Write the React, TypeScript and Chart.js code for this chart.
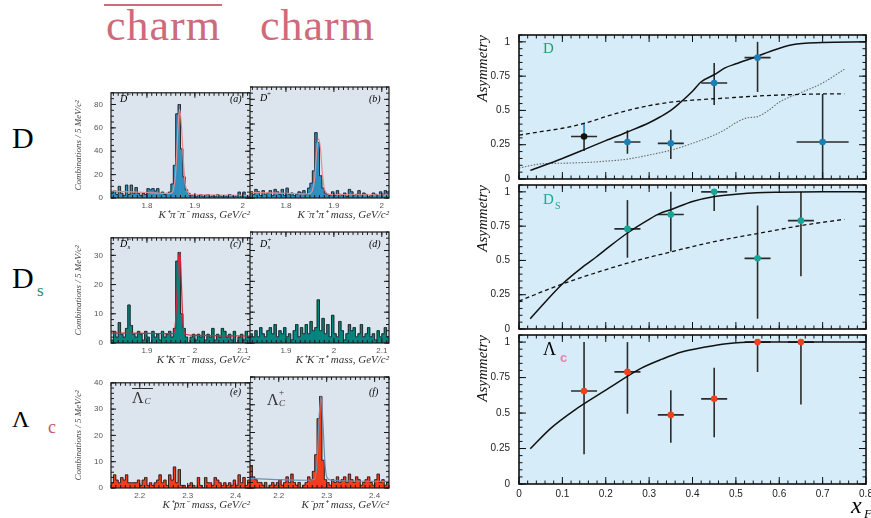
import React, { useEffect, useRef } from 'react';
import { Chart, registerables } from 'chart.js';

Chart.register(...registerables);

const SERIF = '"Liberation Serif", "Times New Roman", serif';
const SANS = '"Liberation Sans", Arial, sans-serif';

/* ---------------- left: invariant-mass histograms (counts / 5 MeV/c² bin) ---------------- */
const BIN = 0.005;
const edgeD = 1.725; // first bin edge, panels (a),(b)
const edgeDs = 1.825; // panels (c),(d)
const edgeLc = 2.14; // panels (e),(f)

const countsDminus = [
  4, 6, 3, 10, 4, 2, 11, 3, 11, 4, 9, 4, 2, 4, 3, 8, 7, 8, 6, 8, 4, 5, 3, 4, 5, 12, 28, 72, 80, 42,
  18, 7, 4, 2, 3, 1, 2, 3, 1, 2, 3, 1, 2, 1, 3, 2, 1, 2, 1, 3, 2, 1, 2, 5, 1, 5, 2, 1,
];
const countsDplus = [
  4, 3, 7, 5, 2, 6, 3, 4, 6, 2, 7, 5, 3, 7, 2, 8, 3, 4, 2, 3, 5, 4, 6, 3, 8, 12, 22, 53, 45, 18,
  8, 4, 3, 2, 5, 2, 6, 3, 2, 4, 1, 7, 5, 2, 3, 6, 2, 4, 3, 1, 2, 4, 3, 2, 5, 3, 6, 4,
];
const countsDsMinus = [
  1, 4, 2, 7, 3, 2, 5, 13, 6, 3, 2, 4, 3, 1, 4, 2, 0, 4, 2, 3, 1, 4, 2, 3, 4, 2, 5, 28, 31, 10,
  5, 2, 0, 2, 3, 1, 3, 2, 4, 1, 3, 2, 5, 1, 3, 2, 5, 4, 2, 3, 1, 4, 0, 2, 3, 1, 4, 2,
];
const countsDsPlus = [
  3, 2, 4, 2, 5, 3, 2, 4, 5, 3, 6, 2, 4, 3, 5, 2, 3, 1, 4, 6, 2, 5, 3, 6, 3, 7, 4, 5, 14, 4,
  8, 3, 6, 2, 9, 3, 2, 7, 4, 1, 3, 6, 4, 5, 2, 3, 6, 2, 3, 5, 2, 3, 1, 4, 2, 3, 5, 2,
];
const countsLcBar = [
  2, 5, 3, 2, 4, 3, 5, 2, 2, 2, 2, 3, 1, 3, 4, 1, 2, 1, 2, 3, 5, 2, 3, 1, 5, 3, 8, 2, 7, 1,
  1, 0, 1, 2, 1, 0, 4, 1, 0, 4, 2, 2, 1, 4, 3, 2, 1, 2, 1, 2, 1, 3, 1, 5, 2, 4, 1, 3,
];
const countsLcPlus = [
  8, 4, 3, 2, 2, 1, 2, 0, 1, 2, 1, 2, 3, 1, 2, 4, 2, 5, 2, 1, 2, 0, 1, 2, 4, 3, 6, 12, 25, 33,
  10, 3, 2, 1, 3, 2, 4, 2, 3, 4, 2, 5, 3, 2, 4, 3, 1, 2, 3, 4, 2, 1, 3, 5, 2, 3, 1, 2,
];

const fitDminusMass = [1.725, 1.76, 1.8, 1.84, 1.85, 1.855, 1.86, 1.864, 1.868, 1.872, 1.876, 1.88, 1.885, 1.89, 1.9, 1.95, 2.015];
const fitDminusCount = [5.8, 5.3, 4.7, 4.0, 4.2, 7, 22, 55, 76, 62, 32, 12, 5, 3, 2.8, 2.4, 2.2];
const fitDplusMass = [1.725, 1.76, 1.8, 1.84, 1.85, 1.855, 1.86, 1.864, 1.868, 1.872, 1.876, 1.88, 1.885, 1.89, 1.9, 1.95, 2.015];
const fitDplusCount = [4.5, 4.2, 3.8, 3.4, 3.6, 6, 16, 38, 48, 40, 20, 8, 4, 3, 2.8, 2.6, 2.4];
const fitDsMinusMass = [1.825, 1.9, 1.955, 1.959, 1.963, 1.966, 1.969, 1.972, 1.975, 1.98, 2.0, 2.115];
const fitDsMinusCount = [3.4, 3.3, 3.2, 6, 18, 29, 31, 20, 7, 3, 2.6, 2.4];
const fitLcPlusMass = [2.14, 2.2, 2.26, 2.275, 2.28, 2.284, 2.288, 2.292, 2.296, 2.3, 2.31, 2.43];
const fitLcPlusCount = [3.5, 3, 2.8, 3.2, 10, 25, 33, 24, 10, 4, 2.8, 2.4];

const massTicksD = [1.8, 1.9, 2];
const massTicksDs = [1.9, 2, 2.1];
const massTicksLc = [2.2, 2.3, 2.4];
const countTicksD = [0, 20, 40, 60, 80];
const countTicksDs = [0, 10, 20, 30];
const countTicksLc = [0, 10, 20, 30, 40];

/* ---------------- right: asymmetry vs xF ---------------- */
const xFTicks = [0, 0.1, 0.2, 0.3, 0.4, 0.5, 0.6, 0.7, 0.8];
const asymTicks = [0, 0.25, 0.5, 0.75, 1];

const dXF = [0.15, 0.25, 0.35, 0.45, 0.55, 0.7];
const dXHalf = [0.03, 0.03, 0.03, 0.03, 0.03, 0.06];
const dAsym = [0.31, 0.27, 0.26, 0.7, 0.885, 0.27];
const dLow = [0.205, 0.185, 0.145, 0.54, 0.635, 0];
const dHigh = [0.41, 0.355, 0.36, 0.845, 1.0, 0.62];

const dsXF = [0.25, 0.35, 0.45, 0.55, 0.65];
const dsXHalf = [0.03, 0.03, 0.03, 0.03, 0.03];
const dsAsym = [0.73, 0.835, 1.0, 0.515, 0.79];
const dsLow = [0.52, 0.565, 0.86, 0.075, 0.385];
const dsHigh = [0.94, 1.0, 1.0, 0.9, 1.0];

const lcXF = [0.15, 0.25, 0.35, 0.45, 0.55, 0.65];
const lcXHalf = [0.03, 0.03, 0.03, 0.03, 0.03, 0.03];
const lcAsym = [0.655, 0.79, 0.487, 0.6, 1.0, 1.0];
const lcLow = [0.21, 0.495, 0.29, 0.33, 0.79, 0.56];
const lcHigh = [1.0, 1.0, 0.66, 0.82, 1.0, 1.0];

const dSolidX = [0.026, 0.1, 0.15, 0.2, 0.25, 0.3, 0.325, 0.35, 0.37, 0.4, 0.42, 0.45, 0.475, 0.5, 0.55, 0.58, 0.63, 0.7, 0.8];
const dSolidY = [0.063, 0.15, 0.214, 0.28, 0.343, 0.41, 0.452, 0.5, 0.552, 0.64, 0.709, 0.76, 0.81, 0.84, 0.895, 0.932, 0.979, 0.995, 1.0];
const dDashX = [0, 0.05, 0.1, 0.15, 0.2, 0.25, 0.3, 0.35, 0.4, 0.45, 0.5, 0.55, 0.6, 0.65, 0.7, 0.75];
const dDashY = [0.32, 0.345, 0.37, 0.405, 0.455, 0.5, 0.535, 0.56, 0.575, 0.585, 0.595, 0.605, 0.612, 0.617, 0.62, 0.62];
const dDotX = [0, 0.05, 0.1, 0.15, 0.2, 0.25, 0.3, 0.35, 0.4, 0.45, 0.475, 0.5, 0.525, 0.55, 0.575, 0.6, 0.65, 0.7, 0.75];
const dDotY = [0.08, 0.11, 0.115, 0.12, 0.13, 0.145, 0.175, 0.21, 0.26, 0.32, 0.36, 0.41, 0.445, 0.455, 0.5, 0.56, 0.63, 0.7, 0.8];

const dsSolidX = [0.026, 0.05, 0.1, 0.15, 0.178, 0.2, 0.25, 0.3, 0.325, 0.35, 0.4, 0.448, 0.5, 0.548, 0.6, 0.7, 0.8];
const dsSolidY = [0.075, 0.16, 0.328, 0.46, 0.525, 0.58, 0.7, 0.8, 0.843, 0.87, 0.93, 0.965, 0.982, 0.993, 0.997, 1.0, 1.0];
const dsDashX = [0, 0.1, 0.25, 0.35, 0.45, 0.55, 0.65, 0.75];
const dsDashY = [0.204, 0.328, 0.48, 0.562, 0.637, 0.696, 0.754, 0.8];

const lcSolidX = [0.026, 0.075, 0.125, 0.2, 0.28, 0.33, 0.375, 0.43, 0.478, 0.54, 0.6, 0.8];
const lcSolidY = [0.248, 0.397, 0.514, 0.661, 0.813, 0.88, 0.93, 0.965, 0.988, 1.0, 1.0, 1.0];

/* ---------------- helpers ---------------- */
function steps(lo: number, hi: number, step: number): number[] {
  const out: number[] = [];
  const start = Math.ceil(lo / step - 1e-6);
  const end = Math.floor(hi / step + 1e-6);
  for (let k = start; k <= end; k++) out.push(+(k * step).toFixed(6));
  return out;
}

function makeFrame(o: any) {
  return {
    id: 'frame',
    beforeDatasetsDraw(chart: any) {
      const { ctx, chartArea: a } = chart;
      ctx.save();
      ctx.fillStyle = o.bg;
      ctx.fillRect(a.left, a.top, a.right - a.left, a.bottom - a.top);
      ctx.restore();
    },
    afterDatasetsDraw(chart: any) {
      const { ctx, chartArea: a, scales } = chart;
      const sx = scales.x;
      const sy = scales.y;
      ctx.save();
      ctx.strokeStyle = o.color;
      ctx.lineWidth = o.tickWidth;
      ctx.beginPath();
      const vx = (v: number, len: number) => {
        const p = sx.getPixelForValue(v);
        ctx.moveTo(p, a.bottom);
        ctx.lineTo(p, a.bottom - len);
        ctx.moveTo(p, a.top);
        ctx.lineTo(p, a.top + len);
      };
      const vy = (v: number, len: number) => {
        const p = sy.getPixelForValue(v);
        ctx.moveTo(a.left, p);
        ctx.lineTo(a.left + len, p);
        ctx.moveTo(a.right, p);
        ctx.lineTo(a.right - len, p);
      };
      o.xMinor.forEach((v: number) => vx(v, o.minLen));
      o.xMajor.forEach((v: number) => vx(v, o.majLen));
      o.yMinor.forEach((v: number) => vy(v, o.minLen));
      o.yMajor.forEach((v: number) => vy(v, o.majLen));
      ctx.stroke();
      ctx.lineWidth = o.frameWidth;
      ctx.strokeRect(a.left, a.top, a.right - a.left, a.bottom - a.top);
      ctx.restore();
    },
  };
}

function makeErrorBars(xs: number[], ys: number[], half: number[], lo: number[], hi: number[], color: string, upColors?: string[]) {
  return {
    id: 'errbars',
    beforeDatasetsDraw(chart: any) {
      const { ctx } = chart;
      const sx = chart.scales.x;
      const sy = chart.scales.y;
      ctx.save();
      ctx.lineWidth = 1.6;
      xs.forEach((x, i) => {
        const px = sx.getPixelForValue(x);
        const py = sy.getPixelForValue(ys[i]);
        ctx.strokeStyle = color;
        ctx.beginPath();
        ctx.moveTo(sx.getPixelForValue(x - half[i]), py);
        ctx.lineTo(sx.getPixelForValue(x + half[i]), py);
        ctx.moveTo(px, sy.getPixelForValue(lo[i]));
        ctx.lineTo(px, py);
        ctx.stroke();
        ctx.strokeStyle = (upColors && upColors[i]) || color;
        ctx.beginPath();
        ctx.moveTo(px, py);
        ctx.lineTo(px, sy.getPixelForValue(hi[i]));
        ctx.stroke();
      });
      ctx.restore();
    },
  };
}

/* ---------------- histogram panel ---------------- */
function HistPanel(props: any) {
  const c = props;
  const ref = useRef<HTMLCanvasElement>(null);
  useEffect(() => {
    const n = c.values.length;
    const xmin = c.start;
    const xmax = c.start + n * BIN;
    const centers = c.values.map((_: number, i: number) => c.start + (i + 0.5) * BIN);
    const outline = [
      { x: xmin, y: c.values[0] },
      ...c.values.map((v: number, i: number) => ({ x: centers[i], y: v })),
      { x: xmax, y: c.values[n - 1] },
    ];
    const datasets: any[] = [];
    if (c.fitX) {
      datasets.push({
        type: 'line',
        data: c.fitX.map((x: number, i: number) => ({ x, y: c.fitY[i] })),
        borderColor: c.fitColor,
        borderWidth: 1.2,
        pointRadius: 0,
        cubicInterpolationMode: 'monotone',
        fill: false,
      });
    }
    datasets.push({
      type: 'line',
      data: outline,
      stepped: 'middle',
      borderColor: '#2a2a2a',
      borderWidth: 1,
      pointRadius: 0,
      fill: false,
    });
    datasets.push({
      type: 'bar',
      data: c.values.map((v: number, i: number) => ({ x: centers[i], y: v })),
      backgroundColor: c.color,
      borderWidth: 0,
      barPercentage: 1,
      categoryPercentage: 1,
    });
    const frame = makeFrame({
      bg: '#dce5ee',
      color: '#1a1a1a',
      tickWidth: 1,
      frameWidth: 1.2,
      xMajor: c.xTicks,
      xMinor: steps(xmin, xmax, 0.01),
      yMajor: c.yTicks,
      yMinor: steps(0, c.ymax, c.yMinor),
      majLen: 5,
      minLen: 3,
    });
    const chart = new Chart(ref.current as HTMLCanvasElement, {
      type: 'bar',
      data: { datasets },
      plugins: [frame],
      options: {
        animation: false,
        responsive: false,
        maintainAspectRatio: false,
        events: [],
        layout: { padding: { left: 0, right: c.padRight, top: 7, bottom: 0 } },
        plugins: { legend: { display: false }, tooltip: { enabled: false } },
        scales: {
          x: {
            type: 'linear',
            offset: false,
            min: xmin,
            max: xmax,
            grid: { display: false, drawTicks: false, offset: false },
            border: { display: false },
            afterBuildTicks: (s: any) => {
              s.ticks = c.xTicks.map((v: number) => ({ value: v }));
            },
            afterFit: (s: any) => {
              s.height = 24;
            },
            ticks: {
              padding: 3,
              autoSkip: false,
              maxRotation: 0,
              color: '#555',
              font: { family: SANS, size: 8 },
              callback: (v: any) => String(v),
            },
            title: {
              display: true,
              text: c.xTitle,
              align: 'end',
              color: '#333',
              padding: 0,
              font: { family: SERIF, size: 11, style: 'italic' },
            },
          },
          y: {
            display: c.showY,
            min: 0,
            max: c.ymax,
            grid: { display: false, drawTicks: false },
            border: { display: false },
            afterBuildTicks: (s: any) => {
              s.ticks = c.yTicks.map((v: number) => ({ value: v }));
            },
            afterFit: (s: any) => {
              s.width = c.showY ? 51 : 0;
            },
            ticks: {
              padding: 8,
              color: '#555',
              font: { family: SANS, size: 8 },
              callback: (v: any) => String(v),
            },
            title: {
              display: c.showY,
              text: 'Combinations / 5 MeV/c²',
              color: '#444',
              padding: { top: 13, bottom: 0 },
              font: { family: SERIF, size: 9, style: 'italic' },
            },
          },
        },
      } as any,
    } as any);
    return () => chart.destroy();
  }, []);
  return (
    <canvas
      ref={ref}
      width={c.width}
      height={142}
      style={{ position: 'absolute', left: c.left, top: c.top, width: c.width, height: 142 }}
    />
  );
}

/* ---------------- asymmetry panel ---------------- */
function AsymPanel(props: any) {
  const c = props;
  const ref = useRef<HTMLCanvasElement>(null);
  const height = c.showX ? 180 : 174;
  useEffect(() => {
    const datasets: any[] = [
      {
        type: 'scatter',
        data: c.xs.map((x: number, i: number) => ({ x, y: c.ys[i] })),
        pointRadius: 3.3,
        pointBackgroundColor: c.pointColors,
        pointBorderWidth: 0,
      },
      ...c.curves.map((cv: any) => ({
        type: 'line',
        data: cv.x.map((x: number, i: number) => ({ x, y: cv.y[i] })),
        borderColor: cv.color,
        borderWidth: cv.width,
        borderDash: cv.dash,
        pointRadius: 0,
        cubicInterpolationMode: 'monotone',
        fill: false,
      })),
    ];
    const frame = makeFrame({
      bg: '#d6ecf8',
      color: '#111',
      tickWidth: 1,
      frameWidth: 1.6,
      xMajor: xFTicks,
      xMinor: steps(0, 0.8, 0.02),
      yMajor: asymTicks,
      yMinor: steps(0, 1.05, 0.05),
      majLen: 7,
      minLen: 3.5,
    });
    const errs = makeErrorBars(c.xs, c.ys, c.half, c.lo, c.hi, '#2b2b2b', c.upColors);
    const chart = new Chart(ref.current as HTMLCanvasElement, {
      type: 'scatter',
      data: { datasets },
      plugins: [frame, errs],
      options: {
        animation: false,
        responsive: false,
        maintainAspectRatio: false,
        events: [],
        layout: { padding: { left: 0, right: 14, top: 14, bottom: c.showX ? 0 : 10 } },
        plugins: { legend: { display: false }, tooltip: { enabled: false } },
        scales: {
          x: {
            type: 'linear',
            display: c.showX,
            min: 0,
            max: 0.8,
            grid: { display: false, drawTicks: false },
            border: { display: false },
            afterBuildTicks: (s: any) => {
              s.ticks = xFTicks.map((v) => ({ value: v }));
            },
            afterFit: (s: any) => {
              s.height = c.showX ? 16 : 0;
            },
            ticks: {
              padding: 4,
              autoSkip: false,
              maxRotation: 0,
              color: '#222',
              font: { family: SANS, size: 10 },
              callback: (v: any) => String(v),
            },
          },
          y: {
            min: 0,
            max: 1.05,
            grid: { display: false, drawTicks: false },
            border: { display: false },
            afterBuildTicks: (s: any) => {
              s.ticks = asymTicks.map((v) => ({ value: v }));
            },
            afterFit: (s: any) => {
              s.width = 59;
            },
            ticks: {
              padding: 9,
              color: '#222',
              font: { family: SANS, size: 10 },
              callback: (v: any) => String(v),
            },
            title: {
              display: true,
              text: 'Asymmetry',
              align: 'end',
              color: '#111',
              padding: { top: 14, bottom: 0 },
              font: { family: SERIF, size: 15, style: 'italic' },
            },
          },
        },
      } as any,
    } as any);
    return () => chart.destroy();
  }, []);
  return (
    <canvas
      ref={ref}
      width={420}
      height={height}
      style={{ position: 'absolute', left: 460, top: c.top - 14, width: 420, height }}
    />
  );
}

/* ---------------- text helpers ---------------- */
function Txt(p: any) {
  const size = p.size;
  return (
    <div
      style={{
        position: 'absolute',
        left: p.x,
        top: p.base - 0.84 * size,
        fontSize: size,
        lineHeight: 1,
        fontFamily: p.family || SERIF,
        fontStyle: p.italic ? 'italic' : 'normal',
        fontWeight: p.weight || 400,
        color: p.color || '#000',
        whiteSpace: 'nowrap',
        letterSpacing: p.ls || 0,
      }}
    >
      {p.children}
    </div>
  );
}

function Bar(p: any) {
  return (
    <div
      style={{
        position: 'absolute',
        left: p.x,
        top: p.y,
        width: p.w,
        height: p.h,
        background: p.color,
      }}
    />
  );
}

const PINK = '#cf6a7d';
const D_FILL = '#2f8fc0';
const DS_FILL = '#00857f';
const LC_FILL = '#f23c1c';

export default function App() {
  return (
    <div
      style={{
        position: 'absolute',
        left: 0,
        top: 0,
        width: 871,
        height: 518,
        overflow: 'hidden',
        background: '#ffffff',
      }}
    >
      {/* histograms */}
      <HistPanel left={60} top={80} width={200} padRight={10} showY start={edgeD} values={countsDminus} color={D_FILL}
        fitX={fitDminusMass} fitY={fitDminusCount} fitColor="#e98c8c" ymax={90} yTicks={countTicksD} yMinor={5}
        xTicks={massTicksD} xTitle="K⁺π⁻π⁻ mass, GeV/c²" />
      <HistPanel left={250} top={80} width={150} padRight={11} showY={false} start={edgeD} values={countsDplus} color={D_FILL}
        fitX={fitDplusMass} fitY={fitDplusCount} fitColor="#e98c8c" ymax={90} yTicks={countTicksD} yMinor={5}
        xTicks={massTicksD} xTitle="K⁻π⁺π⁺ mass, GeV/c²" />
      <HistPanel left={60} top={225} width={200} padRight={10} showY start={edgeDs} values={countsDsMinus} color={DS_FILL}
        fitX={fitDsMinusMass} fitY={fitDsMinusCount} fitColor="#d8243e" ymax={36} yTicks={countTicksDs} yMinor={2}
        xTicks={massTicksDs} xTitle="K⁺K⁻π⁻ mass, GeV/c²" />
      <HistPanel left={250} top={225} width={150} padRight={11} showY={false} start={edgeDs} values={countsDsPlus} color={DS_FILL}
        ymax={36} yTicks={countTicksDs} yMinor={2} xTicks={massTicksDs} xTitle="K⁺K⁻π⁺ mass, GeV/c²" />
      <HistPanel left={60} top={370} width={200} padRight={10} showY start={edgeLc} values={countsLcBar} color={LC_FILL}
        ymax={40} yTicks={countTicksLc} yMinor={2} xTicks={massTicksLc} xTitle="K⁺p̄π⁻ mass, GeV/c²" />
      <HistPanel left={250} top={370} width={150} padRight={11} showY={false} start={edgeLc} values={countsLcPlus} color={LC_FILL}
        fitX={fitLcPlusMass} fitY={fitLcPlusCount} fitColor="#6d8fb0" ymax={40} yTicks={countTicksLc} yMinor={2}
        xTicks={massTicksLc} xTitle="K⁻pπ⁺ mass, GeV/c²" />

      {/* asymmetry panels */}
      <AsymPanel top={34} showX={false} xs={dXF} ys={dAsym} half={dXHalf} lo={dLow} hi={dHigh}
        pointColors={['#111111', '#1a7fb5', '#1a7fb5', '#1a7fb5', '#1a7fb5', '#1a7fb5']}
        upColors={['#1a7fb5', '', '', '', '', '']}
        curves={[
          { x: dSolidX, y: dSolidY, color: '#111', width: 1.5, dash: [] },
          { x: dDashX, y: dDashY, color: '#111', width: 1.3, dash: [4, 3] },
          { x: dDotX, y: dDotY, color: '#6a6a6a', width: 1.1, dash: [1.5, 1.5] },
        ]} />
      <AsymPanel top={184} showX={false} xs={dsXF} ys={dsAsym} half={dsXHalf} lo={dsLow} hi={dsHigh}
        pointColors={['#17a596', '#17a596', '#17a596', '#17a596', '#17a596']}
        curves={[
          { x: dsSolidX, y: dsSolidY, color: '#111', width: 1.5, dash: [] },
          { x: dsDashX, y: dsDashY, color: '#111', width: 1.3, dash: [4, 3] },
        ]} />
      <AsymPanel top={334} showX xs={lcXF} ys={lcAsym} half={lcXHalf} lo={lcLow} hi={lcHigh}
        pointColors={['#f0401e', '#f0401e', '#f0401e', '#f0401e', '#f0401e', '#f0401e']}
        curves={[{ x: lcSolidX, y: lcSolidY, color: '#111', width: 1.5, dash: [] }]} />

      {/* headings */}
      <Bar x={104} y={4} w={118} h={1.6} color={PINK} />
      <Txt x={106} base={41} size={44} color={PINK} ls={1}>charm</Txt>
      <Txt x={260} base={41} size={44} color={PINK} ls={1}>charm</Txt>

      {/* row labels */}
      <Txt x={12} base={148} size={30}>D</Txt>
      <Txt x={12} base={288} size={30}>D</Txt>
      <Txt x={37} base={296} size={17} color="#2e8b57">s</Txt>
      <Txt x={12} base={427} size={24}>Λ</Txt>
      <Txt x={48} base={433} size={18} color="#c8566e">c</Txt>

      {/* histogram panel labels */}
      <Txt x={120} base={102} size={10} italic>D</Txt>
      <Txt x={127} base={98} size={7}>−</Txt>
      <Txt x={230} base={102} size={10} italic>(a)</Txt>
      <Txt x={260} base={101} size={10} italic>D</Txt>
      <Txt x={267} base={97} size={7}>+</Txt>
      <Txt x={369} base={102} size={10} italic>(b)</Txt>

      <Txt x={120} base={247} size={10} italic>D</Txt>
      <Txt x={127.5} base={243} size={7}>−</Txt>
      <Txt x={127.5} base={250} size={7} italic>s</Txt>
      <Txt x={230} base={247} size={10} italic>(c)</Txt>
      <Txt x={260} base={247} size={10} italic>D</Txt>
      <Txt x={267.5} base={243} size={7}>+</Txt>
      <Txt x={267.5} base={250} size={7} italic>s</Txt>
      <Txt x={369} base={247} size={10} italic>(d)</Txt>

      <Bar x={132} y={388} w={21} h={1.2} color="#333" />
      <Txt x={132} base={403} size={16} color="#333">Λ</Txt>
      <Txt x={144.5} base={405} size={9} italic color="#333">C</Txt>
      <Txt x={230} base={395} size={10} italic>(e)</Txt>
      <Txt x={267} base={405} size={16} color="#333">Λ</Txt>
      <Txt x={279} base={396} size={9} color="#333">+</Txt>
      <Txt x={279} base={407} size={9} italic color="#333">C</Txt>
      <Txt x={369} base={395} size={10} italic>(f)</Txt>

      {/* asymmetry panel labels */}
      <Txt x={543} base={54} size={15} color="#22a06e">D</Txt>
      <Txt x={543} base={205} size={15} color="#1aa898">D</Txt>
      <Txt x={555} base={209} size={10} color="#1aa898">S</Txt>
      <Txt x={543} base={355} size={18}>Λ</Txt>
      <Txt x={560} base={362} size={13} weight={700} family={SANS} color="#f07ca8">c</Txt>

      {/* x_F */}
      <Txt x={851} base={513} size={24} italic>x</Txt>
      <Txt x={864} base={518} size={13} italic>F</Txt>
    </div>
  );
}
